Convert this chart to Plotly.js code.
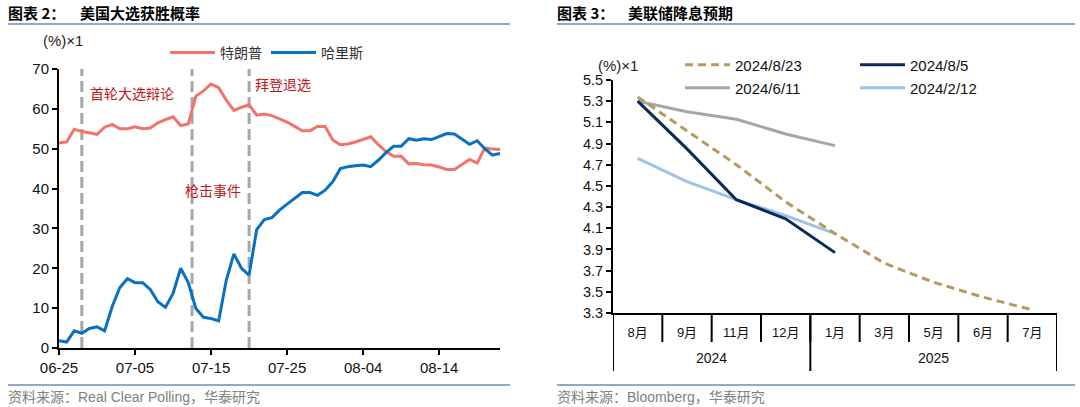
<!DOCTYPE html>
<html><head><meta charset="utf-8">
<script src="https://cdn.plot.ly/plotly-3.0.1.min.js"></script>
<style>html,body{margin:0;padding:0;background:#fff;overflow:hidden;} #chart{width:1080px;height:407px;}</style>
</head><body><div id="chart"></div>
<script>
// ---- Left chart data: US election win probability (%) ----
const startDate = '2024-06-25';
const trump = [51.4,51.7,54.9,54.3,54.0,53.6,55.4,56.1,55.0,55.0,
               55.5,55.0,55.2,56.5,57.3,58.0,55.8,56.2,63.2,64.5,
               66.2,65.3,62.2,59.6,60.4,61.0,58.4,58.7,58.3,57.5,
               56.7,55.6,54.5,54.5,55.6,55.6,52.2,51.0,51.2,51.7,
               52.3,53.0,51.0,49.3,48.1,48.1,46.2,46.3,46.0,45.9,
               45.4,44.8,44.8,46.0,47.3,46.4,50.2,49.9,49.8];
const harris = [1.8,1.5,4.3,3.7,4.9,5.3,4.3,10.4,15.2,17.4,
                16.4,16.4,14.7,11.6,10.2,13.7,20.0,16.4,9.9,7.7,
                7.4,6.8,17.0,23.6,20.0,18.3,29.7,32.2,32.7,34.6,
                36.1,37.5,39.0,39.0,38.3,39.6,41.7,45.0,45.5,45.7,
                45.9,45.5,47.1,49.0,50.6,50.6,52.5,52.1,52.5,52.3,
                53.1,53.8,53.7,52.5,51.1,52.0,50.0,48.4,48.8];
const seriesNames = ['特朗普','哈里斯'];
const eventDates = ['2024-06-28','2024-07-12 12:00','2024-07-20'];
const eventLabels = ['首轮大选辩论','枪击事件','拜登退选'];

// ---- Right chart data: Fed rate expectations (%) ----
const months = ['8月','9月','11月','12月','1月','3月','5月','6月','7月'];
const years  = ['2024','2024','2024','2024','2025','2025','2025','2025','2025'];
const exp0823 = [5.34,5.02,4.70,4.35,4.05,3.77,3.59,3.45,3.33];
const exp0805 = [5.30,4.85,4.37,4.19,3.87];
const exp0611 = [5.30,5.20,5.13,4.99,4.88];
const exp0212 = [4.76,4.54,4.37,4.22,4.05];
const expNames = ['2024/8/23','2024/8/5','2024/6/11','2024/2/12'];

function addDays(s, n){ const d = new Date(s+'T00:00:00Z'); d.setUTCDate(d.getUTCDate()+n); return d.toISOString().slice(0,10); }
const dates = trump.map((_, i) => addDays(startDate, i));
const PX = x => x/1080, PY = y => 1 - y/407;
const NUM = 'Liberation Sans, Arial, Noto Sans CJK SC, sans-serif';
const CJK = 'Noto Sans CJK SC, sans-serif';

const traces = [
  {x: dates, y: trump, name: seriesNames[0], type:'scatter', mode:'lines', line:{color:'#f2736c', width:3}, xaxis:'x', yaxis:'y', legend:'legend'},
  {x: dates, y: harris, name: seriesNames[1], type:'scatter', mode:'lines', line:{color:'#0a70c0', width:3}, xaxis:'x', yaxis:'y', legend:'legend'},
  {x: months.slice(0, exp0611.length), y: exp0611, name: expNames[2], type:'scatter', mode:'lines', line:{color:'#a6a6a6', width:3}, xaxis:'x2', yaxis:'y2', legend:'legend3', legendrank:1},
  {x: months.slice(0, exp0212.length), y: exp0212, name: expNames[3], type:'scatter', mode:'lines', line:{color:'#9dc3e6', width:3}, xaxis:'x2', yaxis:'y2', legend:'legend3', legendrank:2},
  {x: months.slice(0, exp0805.length), y: exp0805, name: expNames[1], type:'scatter', mode:'lines', line:{color:'#0b2a57', width:3}, xaxis:'x2', yaxis:'y2', legend:'legend2', legendrank:2},
  {x: months.slice(0, exp0823.length), y: exp0823, name: expNames[0], type:'scatter', mode:'lines', line:{color:'#b59a5f', width:3, dash:'8px,5px'}, xaxis:'x2', yaxis:'y2', legend:'legend2', legendrank:1}
];

const shapes = [];
const eventTop = [70, 73, 73];
eventDates.forEach((d, i) => shapes.push({type:'line', xref:'x', yref:'y', x0:d, x1:d, y0:0, y1:eventTop[i], line:{color:'#a6a6a6', width:3, dash:'11px,5px'}, layer:'below'}));
// header / footer rules
[[8,510],[557,1075]].forEach(([a,b]) => {
  shapes.push({type:'line', xref:'paper', yref:'paper', x0:PX(a), x1:PX(b), y0:PY(24), y1:PY(24), line:{color:'#8ea9c9', width:2}});
  shapes.push({type:'line', xref:'paper', yref:'paper', x0:PX(a), x1:PX(b), y0:PY(385), y1:PY(385), line:{color:'#8ea9c9', width:2}});
});

const ann = (x, y, text, font, xanchor) => ({xref:'paper', yref:'paper', x:PX(x), y:PY(y), text, showarrow:false, xanchor: xanchor||'left', yanchor:'middle', font});
const titleFont = {family:CJK, size:15, color:'#000'};
const srcFont = {family:NUM, size:14, color:'#808080'};
const evFont = {family:CJK, size:14, color:'#c0151b'};
const annotations = [
  ann(6, 13, '<b>图表 2：</b>', titleFont),
  ann(78, 13, '<b>美国大选获胜概率</b>', titleFont),
  ann(555, 13, '<b>图表 3：</b>', titleFont),
  ann(626, 13, '<b>美联储降息预期</b>', titleFont),
  ann(6, 397, '资料来源：Real Clear Polling，华泰研究', srcFont),
  ann(555, 397, '资料来源：Bloomberg，华泰研究', srcFont),
  ann(41, 40, '(%)×1', {family:NUM, size:15, color:'#222'}),
  ann(596, 65, '(%)×1', {family:NUM, size:15, color:'#222'}),
  ann(88, 93, eventLabels[0], evFont),
  ann(183, 190, eventLabels[1], evFont),
  ann(253, 84, eventLabels[2], evFont)
];

// right chart: month separators, year groups with dividers and labels
months.forEach((m, i) => shapes.push({type:'line', xref:'x2', yref:'paper', x0:i-0.5, x1:i-0.5, y0:PY(313), y1:PY(342), line:{color:'#000', width:2}}));
shapes.push({type:'line', xref:'x2', yref:'paper', x0:months.length-0.5, x1:months.length-0.5, y0:PY(313), y1:PY(342), line:{color:'#000', width:2}});
const groups = [];
years.forEach((y, i) => { if (!groups.length || groups[groups.length-1].year !== y) groups.push({year:y, first:i, last:i}); else groups[groups.length-1].last = i; });
groups.forEach((g, k) => {
  shapes.push({type:'line', xref:'x2', yref:'paper', x0:g.first-0.5, x1:g.first-0.5, y0:PY(313), y1:PY(371), line:{color:'#000', width:2}});
  if (k === groups.length-1) shapes.push({type:'line', xref:'x2', yref:'paper', x0:g.last+0.5, x1:g.last+0.5, y0:PY(313), y1:PY(371), line:{color:'#000', width:2}});
  annotations.push({xref:'x2', yref:'paper', x:(g.first+g.last)/2, y:PY(358), text:g.year, showarrow:false, xanchor:'center', yanchor:'middle', font:{family:NUM, size:14, color:'#111'}});
});

const tickFont = {family:NUM, size:15, color:'#111'};
const layout = {
  width:1080, height:407, margin:{l:0,r:0,t:0,b:0,autoexpand:false},
  paper_bgcolor:'#fff', plot_bgcolor:'rgba(0,0,0,0)',
  hovermode:false,
  xaxis:{type:'date', domain:[PX(59), PX(500)], range:['2024-06-25','2024-08-22'], tick0:'2024-06-25', dtick:864000000, tickformat:'%m-%d',
         ticks:'outside', ticklen:5, tickwidth:2, tickcolor:'#000', showline:true, linecolor:'#000', linewidth:2, showgrid:false, zeroline:false, tickfont:tickFont, anchor:'y', fixedrange:true},
  yaxis:{domain:[PY(348), PY(69)], range:[0,70], dtick:10, ticks:'outside', ticklen:5, tickwidth:2, tickcolor:'#000', showline:true, linecolor:'#000', linewidth:2,
         showgrid:false, zeroline:false, tickfont:tickFont, anchor:'x', fixedrange:true},
  xaxis2:{type:'category', categoryorder:'array', categoryarray:months, range:[-0.5, months.length-0.5], domain:[PX(613), PX(1057)], anchor:'y2', showline:true, linecolor:'#000', linewidth:2,
          ticks:'', ticklabelstandoff:6, showgrid:false, zeroline:false, tickfont:{family:NUM, size:13, color:'#111'}, fixedrange:true},
  yaxis2:{domain:[PY(313), PY(80)], range:[3.3,5.5], tick0:3.3, dtick:0.2, tickformat:'.1f', ticks:'outside', ticklen:5, tickwidth:2, tickcolor:'#000', showline:true, linecolor:'#000', linewidth:2,
          showgrid:false, zeroline:false, tickfont:{family:NUM, size:14.5, color:'#111'}, anchor:'x2', fixedrange:true},
  legend:{orientation:'h', x:PX(165), y:PY(53), xanchor:'left', yanchor:'middle', bgcolor:'rgba(0,0,0,0)', font:{family:CJK, size:14, color:'#333'}, itemwidth:45, entrywidth:41, entrywidthmode:'pixels'},
  legend2:{orientation:'h', x:PX(680), y:PY(65), xanchor:'left', yanchor:'middle', bgcolor:'rgba(0,0,0,0)', font:{family:NUM, size:15, color:'#111'}, itemwidth:45, entrywidth:115, entrywidthmode:'pixels'},
  legend3:{orientation:'h', x:PX(680), y:PY(88), xanchor:'left', yanchor:'middle', bgcolor:'rgba(0,0,0,0)', font:{family:NUM, size:15, color:'#111'}, itemwidth:45, entrywidth:115, entrywidthmode:'pixels'},
  shapes, annotations
};
Plotly.newPlot('chart', traces, layout, {displayModeBar:false, staticPlot:true});
</script></body></html>
